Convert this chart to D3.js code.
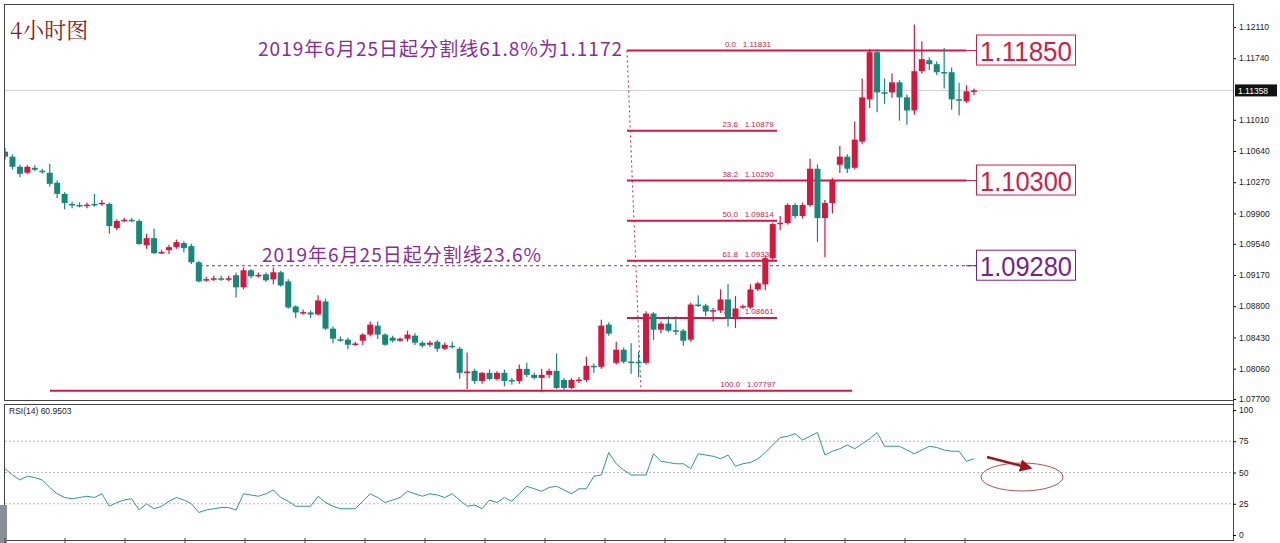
<!DOCTYPE html>
<html><head><meta charset="utf-8">
<script src="https://cdn.jsdelivr.net/npm/d3@7"></script>
<style>body{margin:0;background:#fff}svg{display:block}</style>
</head><body><svg id="c" width="1280" height="543"></svg>
<script>
// [open, close, high, low]
const candles = [
[1.10632,1.10573,1.10680,1.10540],[1.10573,1.10453,1.10600,1.10420],[1.10453,1.10370,1.10480,1.10330],[1.10382,1.10453,1.10470,1.10370],
[1.10441,1.10418,1.10470,1.10400],[1.10406,1.10394,1.10430,1.10370],[1.10382,1.10251,1.10489,1.10220],[1.10263,1.10132,1.10290,1.10080],
[1.10132,1.10024,1.10150,1.09950],[1.10012,1.10010,1.10040,1.09960],[1.10000,1.09998,1.10030,1.09970],[1.09998,1.10004,1.10030,1.09960],
[1.10012,1.10008,1.10130,1.09980],[1.10018,1.10026,1.10060,1.09990],[1.10012,1.09750,1.10030,1.09660],[1.09726,1.09810,1.09830,1.09700],
[1.09816,1.09824,1.09850,1.09800],[1.09824,1.09818,1.09850,1.09800],[1.09810,1.09536,1.09830,1.09530],[1.09524,1.09607,1.09660,1.09480],
[1.09607,1.09428,1.09720,1.09420],[1.09434,1.09442,1.09470,1.09420],[1.09464,1.09500,1.09530,1.09420],[1.09500,1.09560,1.09590,1.09480],
[1.09548,1.09488,1.09570,1.09440],[1.09512,1.09321,1.09540,1.09300],[1.09321,1.09095,1.09340,1.09080],[1.09113,1.09121,1.09150,1.09090],
[1.09125,1.09131,1.09160,1.09100],[1.09131,1.09125,1.09160,1.09100],[1.09125,1.09131,1.09160,1.09100],[1.09167,1.09024,1.09200,1.08904],
[1.09024,1.09226,1.09260,1.09000],[1.09226,1.09155,1.09240,1.09130],[1.09163,1.09171,1.09200,1.09140],[1.09179,1.09107,1.09200,1.09090],
[1.09119,1.09202,1.09260,1.09060],[1.09202,1.09047,1.09220,1.09030],[1.09095,1.08785,1.09120,1.08770],[1.08797,1.08726,1.08810,1.08660],
[1.08722,1.08730,1.08760,1.08700],[1.08726,1.08702,1.08750,1.08660],[1.08702,1.08868,1.08930,1.08690],[1.08856,1.08534,1.08890,1.08520],
[1.08534,1.08415,1.08560,1.08360],[1.08408,1.08400,1.08440,1.08380],[1.08403,1.08343,1.08430,1.08290],[1.08350,1.08358,1.08380,1.08330],
[1.08391,1.08463,1.08480,1.08340],[1.08463,1.08582,1.08620,1.08440],[1.08570,1.08463,1.08620,1.08410],[1.08463,1.08343,1.08480,1.08330],
[1.08427,1.08391,1.08450,1.08370],[1.08391,1.08415,1.08430,1.08380],[1.08415,1.08463,1.08510,1.08380],[1.08451,1.08367,1.08480,1.08340],
[1.08367,1.08331,1.08390,1.08310],[1.08343,1.08367,1.08390,1.08320],[1.08379,1.08296,1.08400,1.08260],[1.08296,1.08343,1.08370,1.08280],
[1.08331,1.08320,1.08380,1.08300],[1.08296,1.08010,1.08320,1.07940],[1.08018,1.08026,1.08250,1.07820],[1.08034,1.07914,1.08060,1.07880],
[1.07914,1.08010,1.08020,1.07880],[1.08010,1.07938,1.08050,1.07920],[1.07938,1.08010,1.08030,1.07920],[1.08010,1.07914,1.08050,1.07850],
[1.07926,1.07920,1.07950,1.07870],[1.07914,1.08057,1.08110,1.07880],[1.08057,1.07986,1.08130,1.07960],[1.07986,1.07950,1.08010,1.07930],
[1.07950,1.07986,1.08060,1.07780],[1.07986,1.08034,1.08060,1.07950],[1.08034,1.07831,1.08240,1.07820],[1.07926,1.07831,1.07950,1.07810],
[1.07831,1.07926,1.07950,1.07820],[1.07922,1.07930,1.07960,1.07890],[1.07926,1.08093,1.08200,1.07900],[1.08093,1.08081,1.08120,1.08010],
[1.08081,1.08570,1.08640,1.08060],[1.08582,1.08475,1.08610,1.08450],[1.08129,1.08284,1.08380,1.08110],[1.08284,1.08141,1.08310,1.08120],
[1.08145,1.08139,1.08360,1.08000],[1.08141,1.08135,1.08260,1.07960],[1.08129,1.08713,1.08740,1.08110],[1.08713,1.08522,1.08730,1.08400],
[1.08522,1.08594,1.08620,1.08480],[1.08594,1.08510,1.08680,1.08490],[1.08514,1.08508,1.08680,1.08460],[1.08510,1.08391,1.08530,1.08330],
[1.08403,1.08820,1.08840,1.08380],[1.08820,1.08814,1.08930,1.08790],[1.08808,1.08737,1.08830,1.08680],[1.08745,1.08753,1.08780,1.08620],
[1.08749,1.08880,1.09000,1.08720],[1.08880,1.08654,1.09060,1.08560],[1.08654,1.08773,1.08920,1.08540],[1.08793,1.08801,1.08820,1.08770],
[1.08785,1.08999,1.09060,1.08770],[1.08999,1.09071,1.09090,1.08980],[1.09059,1.09369,1.09400,1.08990],[1.09369,1.09774,1.09790,1.09340],
[1.09780,1.09790,1.09870,1.09700],[1.09786,1.10000,1.10020,1.09770],[1.10000,1.09869,1.10020,1.09840],[1.09869,1.10000,1.10030,1.09840],
[1.10000,1.10430,1.10550,1.09980],[1.10430,1.09845,1.10480,1.09560],[1.09845,1.10024,1.10060,1.09380],[1.10024,1.10298,1.10320,1.09900],
[1.10477,1.10573,1.10700,1.10380],[1.10573,1.10430,1.10600,1.10380],[1.10441,1.10775,1.10990,1.10420],[1.10751,1.11276,1.11500,1.10720],
[1.11252,1.11812,1.11850,1.11150],[1.11812,1.11335,1.11850,1.11100],[1.11337,1.11331,1.11500,1.11200],[1.11335,1.11454,1.11560,1.11270],
[1.11454,1.11276,1.11480,1.11000],[1.11276,1.11121,1.11310,1.10950],[1.11121,1.11586,1.12140,1.11070],[1.11586,1.11729,1.11940,1.11560],
[1.11717,1.11669,1.11750,1.11600],[1.11669,1.11574,1.11700,1.11540],[1.11576,1.11570,1.11860,1.11380],[1.11574,1.11252,1.11630,1.11130],
[1.11254,1.11248,1.11450,1.11060],[1.11228,1.11347,1.11420,1.11210],[1.11352,1.11358,1.11380,1.11300]
];
const rsi = [53,48,44,47,46,44,38,33,30,29,30,31,30,33,23,26,28,29,20,25,21,23,27,30,28,25,18,20,21,22,22,20,33,32,31,33,36,30,27,23,23,23,31,26,23,21,21,21,27,33,30,26,28,30,35,33,31,33,32,30,33,28,23,24,21,28,26,30,27,33,39,37,35,38,39,36,33,37,37,47,48,66,57,52,48,48,48,65,59,58,57,57,53,65,64,63,61,64,55,57,58,61,66,72,78,79,81,76,79,82,64,67,69,72,69,73,77,82,71,71,71,68,65,68,71,70,68,67,67,59,61];
const priceTicks = [1.12110,1.11740,1.11010,1.10640,1.10270,1.09900,1.09540,1.09170,1.08800,1.08430,1.08060,1.07700];
const rsiTicks = [100,75,50,25,0];
const fibLevels = [["0.0",1.11831,966],["23.6",1.10879,777],["38.2",1.10290,966],["50.0",1.09814,777],["61.8",1.09338,777],["78.6",1.08661,777]];
const baseLevel = ["100.0",1.07797];
const boxes = [["1.11850",1.11831,"#d81b45"],["1.10300",1.10290,"#d81b45"],["1.09280",1.09280,"#7b1f8e"]];
const currentPrice = 1.11358;

const RED="#dc143c", TEAL="#12897a", FIB="#d01848", PUR="#8b2a9a";
const svg=d3.select("#c");
const y=d3.scaleLinear().domain([1.077,1.1211]).range([399,27]);
const x=d3.scaleLinear().domain([0,130]).range([5,974]);
const ry=d3.scaleLinear().domain([0,100]).range([535,410]);
const right=1233;

svg.append("rect").attr("x",4.5).attr("y",4.5).attr("width",right-4).attr("height",396).attr("fill","none").attr("stroke","#444");
svg.append("rect").attr("x",4.5).attr("y",404.5).attr("width",right-4).attr("height",136).attr("fill","none").attr("stroke","#444");
svg.append("rect").attr("x",0).attr("y",505).attr("width",7).attr("height",38).attr("fill","#8a8f99");

svg.append("clipPath").attr("id","cl").append("rect").attr("x",5).attr("y",5).attr("width",right-5).attr("height",395);
const g=svg.append("g").attr("clip-path","url(#cl)");

g.append("line").attr("x1",5).attr("x2",right).attr("y1",y(currentPrice)).attr("y2",y(currentPrice)).attr("stroke","#d0d0d0");

const ax=svg.append("g").attr("transform",`translate(${right},0)`).call(d3.axisRight(y).tickValues(priceTicks).tickFormat(d3.format(".5f")).tickSize(3));
ax.select(".domain").remove();
ax.selectAll("text").attr("font-family","Liberation Sans, Arial").attr("font-size",8.5).attr("fill","#222");
svg.append("line").attr("x1",right+0.5).attr("x2",right+0.5).attr("y1",4).attr("y2",541).attr("stroke","#444");
svg.append("rect").attr("x",right+2).attr("y",y(currentPrice)-6).attr("width",42).attr("height",12).attr("fill","#111");
svg.append("text").attr("x",right+5).attr("y",y(currentPrice)+3.5).text(currentPrice.toFixed(5)).attr("fill","#fff").attr("font-size",8.5).attr("font-family","Liberation Sans, Arial");

g.append("line").attr("x1",50).attr("x2",852).attr("y1",y(baseLevel[1])).attr("y2",y(baseLevel[1])).attr("stroke",FIB).attr("stroke-width",2);
g.append("text").attr("x",748).attr("y",y(baseLevel[1])-4).attr("text-anchor","middle").attr("font-size",8).attr("fill",FIB).attr("font-family","Liberation Sans, Arial").attr("xml:space","preserve").text(baseLevel[0]+"   "+baseLevel[1].toFixed(5));

fibLevels.forEach(([n,v,x2])=>{
  g.append("line").attr("x1",627).attr("x2",x2).attr("y1",y(v)).attr("y2",y(v)).attr("stroke",FIB).attr("stroke-width",2);
  g.append("text").attr("x",748).attr("y",y(v)-4).attr("text-anchor","middle").attr("font-size",8).attr("fill",FIB).attr("font-family","Liberation Sans, Arial").attr("xml:space","preserve").text(n+"   "+v.toFixed(5));
});
g.append("line").attr("x1",627).attr("y1",y(1.11831)).attr("x2",641).attr("y2",y(baseLevel[1])).attr("stroke",FIB).attr("stroke-dasharray","2,3");
g.append("line").attr("x1",200).attr("x2",976).attr("y1",y(1.0928)).attr("y2",y(1.0928)).attr("stroke",PUR).attr("stroke-dasharray","3,3");

const cg=g.append("g");
candles.forEach((c,i)=>{
  const [o,cl,h,l]=c; const col=cl>=o?RED:TEAL; const cx=x(i);
  cg.append("line").attr("x1",cx).attr("x2",cx).attr("y1",y(h)).attr("y2",y(l)).attr("stroke",col).attr("stroke-width",1.2);
  const t=y(Math.max(o,cl)), b=y(Math.min(o,cl));
  cg.append("rect").attr("x",cx-3).attr("width",6).attr("y",t).attr("height",Math.max(1.5,b-t)).attr("fill",col);
});

boxes.forEach(([t,v,col])=>{
  const yy=y(v);
  svg.append("line").attr("x1",966).attr("x2",976).attr("y1",yy).attr("y2",yy).attr("stroke",col);
  svg.append("rect").attr("x",976.5).attr("y",yy-15.5).attr("width",99).attr("height",30).attr("fill","#fff").attr("stroke",col);
  svg.append("text").attr("x",980).attr("y",yy+10).attr("textLength",92).attr("lengthAdjust","spacingAndGlyphs").attr("font-size",28).attr("fill",col).attr("font-family","Liberation Sans, Arial").text(t);
});

svg.append("text").attr("x",10).attr("y",38).text("4小时图").attr("font-size",22).attr("fill","#8b1a1a").attr("font-family","Noto Serif CJK SC, Noto Sans CJK SC");
svg.append("text").attr("x",258).attr("y",56).attr("textLength",364).text("2019年6月25日起分割线61.8%为1.1172").attr("font-size",19).attr("fill",PUR).attr("font-family","Noto Sans CJK SC");
svg.append("text").attr("x",262).attr("y",262).attr("textLength",279).text("2019年6月25日起分割线23.6%").attr("font-size",19).attr("fill",PUR).attr("font-family","Noto Sans CJK SC");

rsiTicks.slice(1,4).forEach(v=>svg.append("line").attr("x1",5).attr("x2",right).attr("y1",ry(v)).attr("y2",ry(v)).attr("stroke","#bbb").attr("stroke-dasharray","2,2"));
const rax=svg.append("g").attr("transform",`translate(${right},0)`).call(d3.axisRight(ry).tickValues(rsiTicks).tickSize(3));
rax.select(".domain").remove();
rax.selectAll("text").attr("font-family","Liberation Sans, Arial").attr("font-size",8.5).attr("fill","#222");
svg.append("path").datum(rsi).attr("d",d3.line().x((d,i)=>x(i)).y(d=>ry(d))).attr("fill","none").attr("stroke","#2a9a8c").attr("stroke-width",1);
svg.append("text").attr("x",9).attr("y",414).text("RSI(14) 60.9503").attr("font-size",8.5).attr("fill","#222").attr("font-family","Liberation Sans, Arial");
svg.append("ellipse").attr("cx",1022).attr("cy",477).attr("rx",41).attr("ry",14).attr("fill","none").attr("stroke","#b5514f");
svg.append("defs").append("marker").attr("id","ar").attr("viewBox","0 0 10 10").attr("refX",8).attr("refY",5).attr("markerWidth",5).attr("markerHeight",5).attr("orient","auto").append("path").attr("d","M0,0L10,5L0,10z").attr("fill","#a0151c");
svg.append("line").attr("x1",987).attr("y1",457).attr("x2",1030).attr("y2",468).attr("stroke","#a0151c").attr("stroke-width",2.5).attr("marker-end","url(#ar)");
d3.range(0,17).forEach(k=>{const xx=5+k*60;svg.append("line").attr("x1",xx).attr("x2",xx).attr("y1",538).attr("y2",543).attr("stroke","#444");});
</script></body></html>
